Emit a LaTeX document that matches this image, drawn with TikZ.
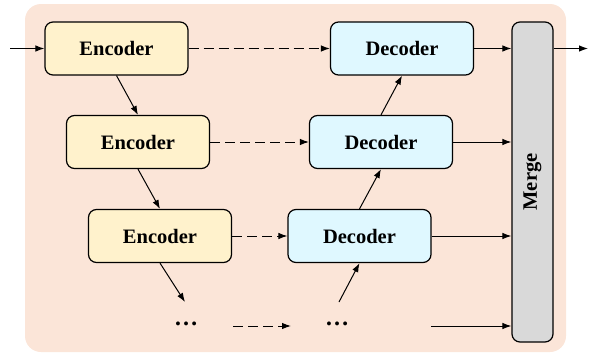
\documentclass[tikz,border=0pt]{standalone}
\usepackage{fontspec}
\setmainfont{Liberation Serif}
\usetikzlibrary{arrows.meta}
\definecolor{bgc}{HTML}{FBE5D8}
\definecolor{encc}{HTML}{FFF2CC}
\definecolor{decc}{HTML}{DFF8FF}
\definecolor{mrgc}{HTML}{D9D9D9}
\tikzset{
  box/.style={draw=black, line width=1.2pt, rounded corners=8pt, minimum width=143pt, minimum height=53pt, inner sep=0pt, font=\fontsize{20.5}{24}\selectfont\bfseries},
  encbox/.style={box, fill=encc},
  decbox/.style={box, fill=decc},
  arr/.style={line width=1pt, -{Latex[length=9pt,width=6.5pt]}},
  darr/.style={arr, dash pattern=on 10pt off 5pt},
  dots/.style={font=\fontsize{24}{28}\selectfont\bfseries, inner sep=0pt}
}
\begin{document}
\begin{tikzpicture}[x=1pt,y=-1pt]
\useasboundingbox (0,0) rectangle (598,356);
\fill[bgc, rounded corners=16pt] (25,4) rectangle (566,352);
\node[encbox] (e1) at (116.5,48.5) {Encoder};
\node[encbox] (e2) at (138,142) {Encoder};
\node[encbox] (e3) at (160,236) {Encoder};
\node[decbox] (d1) at (402,48.5) {Decoder};
\node[decbox] (d2) at (381,142) {Decoder};
\node[decbox] (d3) at (359.5,236) {Decoder};
\node[draw=black, line width=1.2pt, rounded corners=8pt, fill=mrgc, minimum width=41pt, minimum height=320pt, inner sep=0pt] (m) at (532.5,182) {};
\node[rotate=90, font=\fontsize{20.5}{24}\selectfont\bfseries] (mt) at (m.center) {Merge};
\node[dots] (dl) at (186,324) {\ldots};
\node[dots] (dr) at (337,324) {\ldots};
\coordinate (in) at (10,48.5);
\coordinate (out) at (588,48.5);
\coordinate (e3end) at (185,302);
\coordinate (d3start) at (339,302);
\coordinate (bds) at (233,326);
\coordinate (bde) at (291,326);
\coordinate (bas) at (431,326);
\draw[arr] (in) -- (e1.west);
\draw[arr] (e1.south) -- (e2.north);
\draw[arr] (e2.south) -- (e3.north);
\draw[arr] (e3.south) -- (e3end);
\draw[darr] (e1.east) -- (d1.west);
\draw[darr] (e2.east) -- (d2.west);
\draw[darr] (e3.east) -- (d3.west);
\draw[darr] (bds) -- (bde);
\draw[arr] (d3start) -- (d3.south);
\draw[arr] (d3.north) -- (d2.south);
\draw[arr] (d2.north) -- (d1.south);
\draw[arr] (d1.east) -- (d1.east -| m.west);
\draw[arr] (d2.east) -- (d2.east -| m.west);
\draw[arr] (d3.east) -- (d3.east -| m.west);
\draw[arr] (bas) -- (bas -| m.west);
\draw[arr] (m.east |- in) -- (out);
\end{tikzpicture}
\end{document}
